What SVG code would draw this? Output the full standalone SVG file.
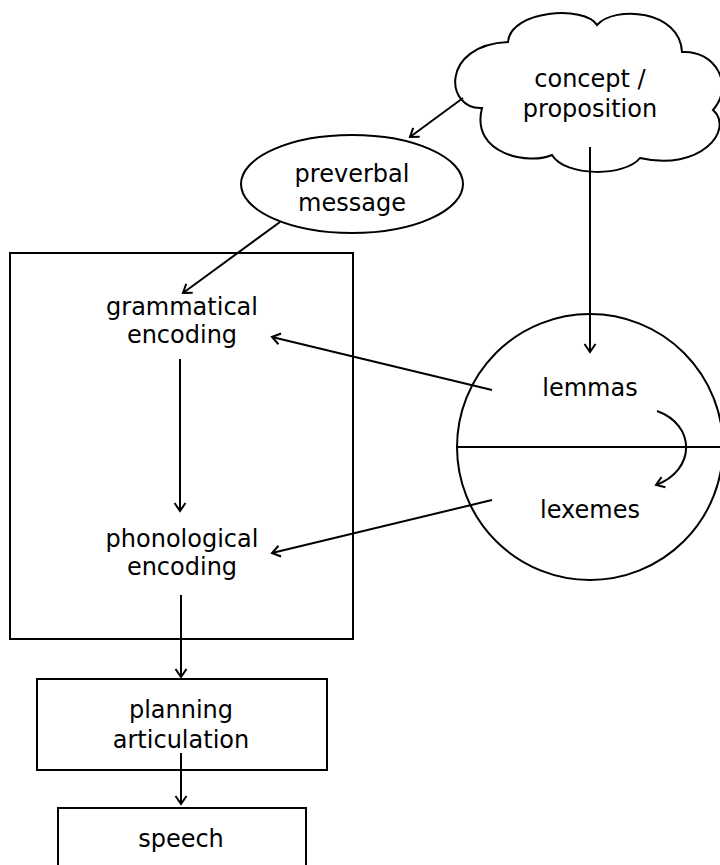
<svg xmlns="http://www.w3.org/2000/svg" width="720" height="865" viewBox="0 0 720 865">
  <style>
    .shape { fill: #ffffff; stroke: #000000; stroke-width: 2; }
    .edge { fill: none; stroke: #000000; stroke-width: 2; marker-end: url(#arrow); }
    .label { font-family: "DejaVu Sans", Verdana, sans-serif; font-size: 24px; fill: #000000; text-anchor: middle; }
  </style>
  <defs>
    <marker id="arrow" markerUnits="userSpaceOnUse" viewBox="-10 -7 12 14" markerWidth="12" markerHeight="14" refX="0" refY="0" orient="auto">
      <path d="M-8,-5.5 L0,0 L-8,5.5" fill="none" stroke="#000000" stroke-width="2"/>
    </marker>
  </defs>
  <rect width="720" height="865" fill="#ffffff"/>

  <g id="concept">
    <path class="shape" d="M508,42 C510,10 585,5 597,25 C615,5 680,10 682,52 C715,50 735,85 713,110 C735,130 700,172 640,158 C625,177 565,177 552,155 C530,165 470,155 482,108 C445,110 440,45 508,42 Z"/>
    <text class="label" x="590" y="87">concept /</text>
    <text class="label" x="590" y="117">proposition</text>
  </g>

  <g id="preverbal">
    <ellipse class="shape" cx="352" cy="184" rx="111" ry="49"/>
    <text class="label" x="352" y="182">preverbal</text>
    <text class="label" x="352" y="211">message</text>
  </g>

  <g id="formulator">
    <rect class="shape" x="10" y="253" width="343" height="386"/>
    <text class="label" x="182" y="315">grammatical</text>
    <text class="label" x="182" y="343">encoding</text>
    <text class="label" x="182" y="547">phonological</text>
    <text class="label" x="182" y="575">encoding</text>
  </g>

  <g id="lexicon">
    <circle class="shape" cx="590" cy="447" r="133"/>
    <line x1="457" y1="447" x2="723" y2="447" stroke="#000000" stroke-width="2"/>
    <text class="label" x="590" y="396">lemmas</text>
    <text class="label" x="590" y="518">lexemes</text>
  </g>

  <g id="planning">
    <rect class="shape" x="37" y="679" width="290" height="91"/>
    <text class="label" x="181" y="718">planning</text>
    <text class="label" x="181" y="748">articulation</text>
  </g>

  <g id="speech">
    <rect class="shape" x="58" y="808" width="248" height="70"/>
    <text class="label" x="181" y="847">speech</text>
  </g>

  <g id="connectors">
    <line class="edge" x1="463" y1="98" x2="410" y2="137"/>
    <line class="edge" x1="590" y1="147" x2="590" y2="352"/>
    <line class="edge" x1="280" y1="222" x2="183" y2="293"/>
    <line class="edge" x1="492" y1="390" x2="272" y2="337"/>
    <line class="edge" x1="492" y1="500" x2="272" y2="553"/>
    <line class="edge" x1="180" y1="359" x2="180" y2="511"/>
    <line class="edge" x1="181" y1="595" x2="181" y2="677"/>
    <line class="edge" x1="181" y1="753" x2="181" y2="804"/>
    <path class="edge" d="M657,411 C696,425 696,470 656,485"/>
  </g>
</svg>
